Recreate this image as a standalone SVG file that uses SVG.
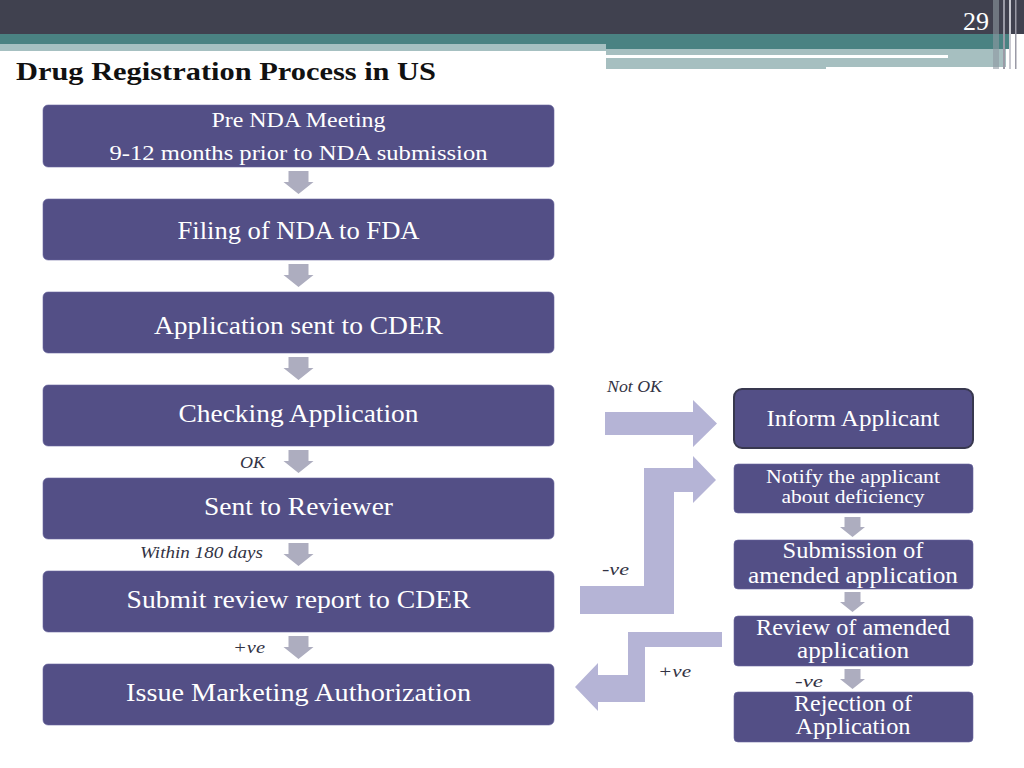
<svg xmlns="http://www.w3.org/2000/svg" width="1024" height="768" viewBox="0 0 1024 768">
<defs>
<style>
.box{fill:#534f86;stroke:#6a67a0;stroke-width:0.6}
.bt{font-family:"Liberation Serif","DejaVu Serif",serif;fill:#ffffff;text-anchor:middle}
.lbl{font-family:"Liberation Serif","DejaVu Serif",serif;font-style:italic;fill:#333344;font-size:17px}
.sa{fill:#adadbf}
.ba{fill:#b5b4d6}
</style>
<path id="dn" d="M-10,0 H10 V11 H15 L0,23 L-15,11 H-10 Z"/>
<path id="dns" d="M-8,0 H8 V10 H12.5 L0,20 L-12.5,10 H-8 Z"/>
</defs>
<rect x="0" y="0" width="1024" height="768" fill="#ffffff"/>
<!-- header -->
<g id="header">
<rect x="0" y="0" width="1024" height="34" fill="#40414f"/>
<rect x="0" y="34" width="1010" height="10" fill="#4a8282"/>
<rect x="0" y="44" width="607" height="7" fill="#a6c0c1"/>
<rect x="606" y="44" width="404" height="5" fill="#4a8282"/>
<rect x="606" y="49" width="400" height="6" fill="#a6bfc0"/>
<rect x="606" y="55" width="342" height="3" fill="#ffffff"/>
<rect x="948" y="55" width="58" height="3" fill="#a6bfc0"/>
<rect x="606" y="58" width="220" height="11" fill="#a6bfc0"/>
<rect x="826" y="58" width="180" height="9" fill="#a6bfc0"/>
<rect x="993" y="0" width="6" height="69" fill="#8f9aa2" opacity="0.6"/>
<rect x="1003" y="0" width="2" height="69" fill="#9a9aa6"/>
<rect x="1009" y="0" width="2" height="69" fill="#c8c8d0"/>
<rect x="1015" y="0" width="1.5" height="69" fill="#9a9aa6"/>
<text x="976" y="30" font-family="Liberation Serif, DejaVu Serif, serif" font-size="25" fill="#ffffff" text-anchor="middle" textLength="26" lengthAdjust="spacingAndGlyphs">29</text>
<text x="16" y="80" font-family="Liberation Serif, DejaVu Serif, serif" font-weight="bold" font-size="25" fill="#111111" textLength="420" lengthAdjust="spacingAndGlyphs">Drug Registration Process in US</text>
</g>
<!-- connectors -->
<g id="connectors">
<use href="#dn" class="sa" x="298.5" y="171"/>
<use href="#dn" class="sa" x="298.5" y="264"/>
<use href="#dn" class="sa" x="298.5" y="357"/>
<use href="#dn" class="sa" x="298.5" y="450"/>
<use href="#dn" class="sa" x="298.5" y="543"/>
<use href="#dn" class="sa" x="298.5" y="636"/>
<use href="#dns" class="sa" x="852.5" y="517"/>
<use href="#dns" class="sa" x="852.5" y="592"/>
<use href="#dns" class="sa" x="852.5" y="669"/>
<polygon class="ba" points="605,412 693,412 693,400 717,423.5 693,447 693,435 605,435"/>
<polygon class="ba" points="580,586 644,586 644,468 693,468 693,456 716,480 693,503 693,492 674,492 674,614 580,614"/>
<polygon class="ba" points="722,632 628,632 628,675 598,675 598,663 575,687 598,711 598,702 645,702 645,647 722,647"/>
<text class="lbl" x="607" y="392" textLength="55" lengthAdjust="spacingAndGlyphs">Not OK</text>
<text class="lbl" x="240" y="468" textLength="25" lengthAdjust="spacingAndGlyphs">OK</text>
<text class="lbl" x="140" y="558" textLength="123" lengthAdjust="spacingAndGlyphs">Within 180 days</text>
<text class="lbl" x="233" y="653" textLength="32" lengthAdjust="spacingAndGlyphs">+ve</text>
<text class="lbl" x="602" y="575" textLength="27" lengthAdjust="spacingAndGlyphs">-ve</text>
<text class="lbl" x="658" y="677" textLength="33" lengthAdjust="spacingAndGlyphs">+ve</text>
<text class="lbl" x="795" y="687" textLength="28" lengthAdjust="spacingAndGlyphs">-ve</text>
</g>
<!-- left column -->
<g id="pre-nda">
<rect class="box" x="43" y="105" width="511" height="62" rx="5"/>
<text class="bt" x="298.5" y="127" font-size="21" textLength="174" lengthAdjust="spacingAndGlyphs">Pre NDA Meeting</text>
<text class="bt" x="298.5" y="160" font-size="21" textLength="378" lengthAdjust="spacingAndGlyphs">9-12 months prior to NDA submission</text>
</g>
<g id="filing">
<rect class="box" x="43" y="199" width="511" height="61" rx="5"/>
<text class="bt" x="298.5" y="239" font-size="26" textLength="242" lengthAdjust="spacingAndGlyphs">Filing of NDA to FDA</text>
</g>
<g id="app-sent">
<rect class="box" x="43" y="292" width="511" height="61" rx="5"/>
<text class="bt" x="298.5" y="334" font-size="26" textLength="289" lengthAdjust="spacingAndGlyphs">Application sent to CDER</text>
</g>
<g id="checking">
<rect class="box" x="43" y="385" width="511" height="61" rx="5"/>
<text class="bt" x="298.5" y="422" font-size="26" textLength="240" lengthAdjust="spacingAndGlyphs">Checking Application</text>
</g>
<g id="reviewer">
<rect class="box" x="43" y="478" width="511" height="61" rx="5"/>
<text class="bt" x="298.5" y="515" font-size="26" textLength="189" lengthAdjust="spacingAndGlyphs">Sent to Reviewer</text>
</g>
<g id="submit-report">
<rect class="box" x="43" y="571" width="511" height="61" rx="5"/>
<text class="bt" x="298.5" y="608" font-size="26" textLength="344" lengthAdjust="spacingAndGlyphs">Submit review report to CDER</text>
</g>
<g id="issue">
<rect class="box" x="43" y="664" width="511" height="61" rx="5"/>
<text class="bt" x="298.5" y="701" font-size="26" textLength="345" lengthAdjust="spacingAndGlyphs">Issue Marketing Authorization</text>
</g>
<!-- right column -->
<g id="inform">
<rect x="734" y="389" width="239" height="59" rx="8" fill="#534f86" stroke="#38384f" stroke-width="2"/>
<text class="bt" x="853" y="426" font-size="23" textLength="173" lengthAdjust="spacingAndGlyphs">Inform Applicant</text>
</g>
<g id="notify">
<rect class="box" x="734" y="464" width="239" height="49" rx="4"/>
<text class="bt" x="853" y="483" font-size="18" textLength="174" lengthAdjust="spacingAndGlyphs">Notify the applicant</text>
<text class="bt" x="853" y="503" font-size="18" textLength="143" lengthAdjust="spacingAndGlyphs">about deficiency</text>
</g>
<g id="submission">
<rect class="box" x="734" y="540" width="239" height="49" rx="4"/>
<text class="bt" x="853" y="558" font-size="23" textLength="141" lengthAdjust="spacingAndGlyphs">Submission of</text>
<text class="bt" x="853" y="583" font-size="23" textLength="210" lengthAdjust="spacingAndGlyphs">amended application</text>
</g>
<g id="review">
<rect class="box" x="734" y="616" width="239" height="50" rx="4"/>
<text class="bt" x="853" y="635" font-size="23" textLength="194" lengthAdjust="spacingAndGlyphs">Review of amended</text>
<text class="bt" x="853" y="658" font-size="23" textLength="112" lengthAdjust="spacingAndGlyphs">application</text>
</g>
<g id="rejection">
<rect class="box" x="734" y="692" width="239" height="50" rx="4"/>
<text class="bt" x="853" y="711" font-size="23" textLength="118" lengthAdjust="spacingAndGlyphs">Rejection of</text>
<text class="bt" x="853" y="734" font-size="23" textLength="115" lengthAdjust="spacingAndGlyphs">Application</text>
</g>
</svg>
